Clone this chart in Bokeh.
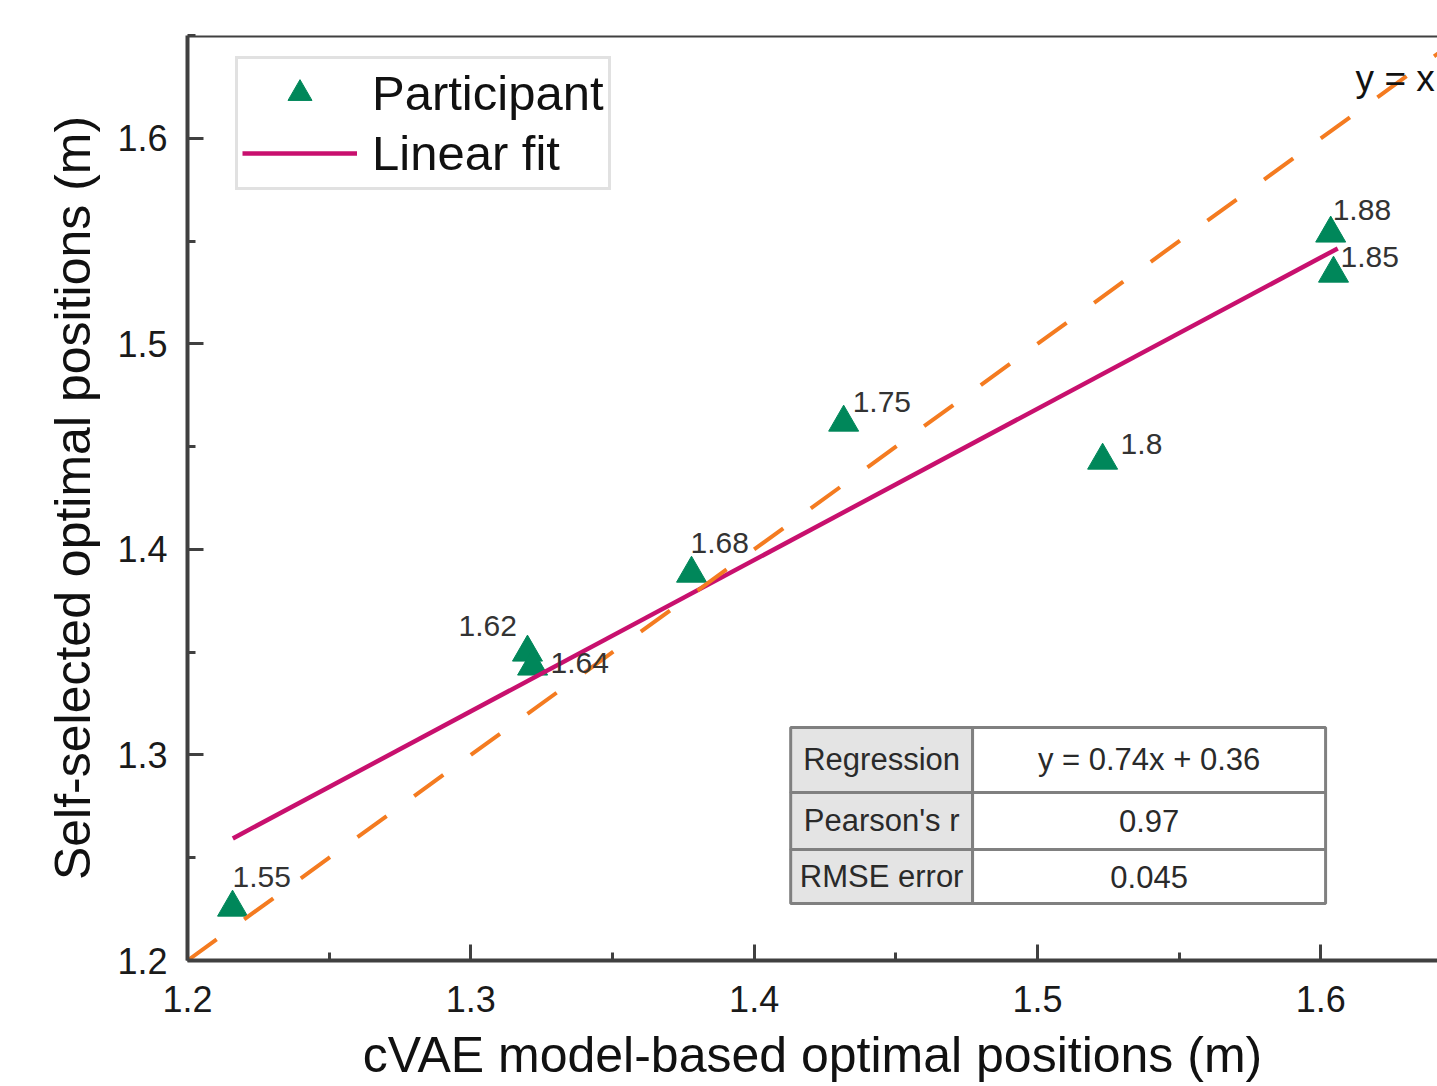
from bokeh.plotting import figure
from bokeh.models import (ColumnDataSource, Legend, LegendItem, LabelSet, Label,
                          Span, FixedTicker, Range1d, PrintfTickFormatter)
from bokeh.core.properties import value
from bokeh.embed import file_html
from bokeh.resources import INLINE

# ---------------- data ----------------
heights = ["1.55", "1.62", "1.64", "1.68", "1.75", "1.8", "1.88", "1.85"]
model_pos = [1.2159, 1.3200, 1.3218, 1.3779, 1.4316, 1.5230, 1.6035, 1.6045]
self_pos = [1.2258, 1.3499, 1.3431, 1.3883, 1.4618, 1.4433, 1.5538, 1.5343]

fit_x = [1.216, 1.606]
fit_y = [1.2594, 1.5465]
ident_x = [1.2, 1.65]
ident_y = [1.2, 1.65]

x_ticks = [1.2, 1.3, 1.4, 1.5, 1.6]
y_ticks = [1.2, 1.3, 1.4, 1.5, 1.6]
x_minor = [1.25, 1.35, 1.45, 1.55, 1.65]
y_minor = [1.25, 1.35, 1.45, 1.55, 1.65]

table_keys = ["Regression", "Pearson's r", "RMSE error"]
table_vals = ["y = 0.74x + 0.36", "0.97", "0.045"]

# ---------------- styles / layout ----------------
GREEN = "#00875a"
MAGENTA = "#c8106e"
ORANGE = "#f47b20"
AXIS = "#404040"
FONT = "Liberation Sans"

label_dx = [0, -69, 18, -1, 9, 18, 2, 7]
label_dy = [30, 26, 3, 31, 20, 16, 23, 16]

X0, X1 = 1.2, 1.6412
Y0, Y1 = 1.2, 1.6501

# table edges (data coords)
tab_x = [1.4129, 1.4771, 1.6017]
tab_y = [1.3134, 1.2818, 1.2540, 1.2277]

p = figure(width=1437, height=1086, x_range=Range1d(X0, X1), y_range=Range1d(Y0, Y1),
           output_backend="svg", toolbar_location=None,
           min_border_left=187, min_border_right=0, min_border_top=35, min_border_bottom=126)
p.outline_line_color = None
p.grid.visible = False
p.background_fill_color = "white"
p.border_fill_color = "white"

for ax, ticks, minor in ((p.xaxis, x_ticks, x_minor), (p.yaxis, y_ticks, y_minor)):
    ax.ticker = FixedTicker(ticks=ticks, minor_ticks=minor)
    ax.formatter = PrintfTickFormatter(format="%.1f")
    ax.axis_line_width = 4
    ax.axis_line_color = AXIS
    ax.major_tick_in = 16
    ax.major_tick_out = 0
    ax.major_tick_line_width = 3
    ax.major_tick_line_color = AXIS
    ax.minor_tick_in = 8
    ax.minor_tick_out = 0
    ax.minor_tick_line_width = 3
    ax.minor_tick_line_color = AXIS
    ax.major_label_text_font = FONT
    ax.major_label_text_font_size = "36px"
    ax.major_label_text_color = "#1a1a1a"
    ax.axis_label_text_font = FONT
    ax.axis_label_text_font_size = "50px"
    ax.axis_label_text_font_style = "normal"
    ax.axis_label_text_color = "#111111"

p.xaxis.axis_label = "cVAE model-based optimal positions (m)"
p.yaxis.axis_label = "Self-selected optimal positions (m)"
p.xaxis.major_label_standoff = 25
p.xaxis.axis_label_standoff = 12
p.yaxis.major_label_standoff = 20
p.yaxis.axis_label_standoff = 13

# top border
p.add_layout(Span(location=Y1, dimension="width", line_color=AXIS, line_width=4))

src = ColumnDataSource(dict(x=model_pos, y=self_pos, label=heights, dx=label_dx, dy=label_dy))

r_pts = p.scatter("x", "y", source=src, marker="triangle", size=30,
                  fill_color=GREEN, line_color=GREEN, line_width=1)
r_fit = p.line(fit_x, fit_y, line_color=MAGENTA, line_width=4.5)
p.line(ident_x, ident_y, line_color=ORANGE, line_width=4, line_dash="36 34")

p.add_layout(LabelSet(x="x", y="y", text="label", source=src, x_offset="dx", y_offset="dy",
                      text_align="left", text_baseline="middle", text_font=value(FONT),
                      text_font_size="30px", text_color="#333333"))

p.add_layout(Label(x=1.6123, y=1.6290, text="y = x", text_font=FONT, text_font_size="37px",
                   text_baseline="alphabetic", text_align="left", text_color="#111111"))

# table
lefts, rights, tops, bottoms, fills = [], [], [], [], []
tx_c, ty_c, tt = [], [], []
for i in range(3):
    for j in range(2):
        lefts.append(tab_x[j]); rights.append(tab_x[j + 1])
        tops.append(tab_y[i]); bottoms.append(tab_y[i + 1])
        fills.append("#e4e4e4" if j == 0 else "#ffffff")
        tx_c.append((tab_x[j] + tab_x[j + 1]) / 2)
        ty_c.append((tab_y[i] + tab_y[i + 1]) / 2)
        tt.append(table_keys[i] if j == 0 else table_vals[i])
p.quad(left=lefts, right=rights, top=tops, bottom=bottoms, fill_color=fills,
       line_color="#808080", line_width=3)
p.text(x=tx_c, y=ty_c, text=tt, text_align="center", text_baseline="middle",
       text_font=value(FONT), text_font_size="31px", text_color="#2a2a2a")

legend = Legend(items=[LegendItem(label="Participant", renderers=[r_pts]),
                       LegendItem(label="Linear fit", renderers=[r_fit])],
                location=(48, 770), glyph_width=115, glyph_height=60, label_height=60,
                spacing=0, padding=4, margin=0, label_standoff=15,
                border_line_color="#c4c4c4", border_line_width=3,
                label_text_font=FONT, label_text_font_size="49px", label_text_color="#111111",
                background_fill_color="white", background_fill_alpha=1)
p.add_layout(legend)

open("out.html", "w").write(file_html(p, INLINE))
